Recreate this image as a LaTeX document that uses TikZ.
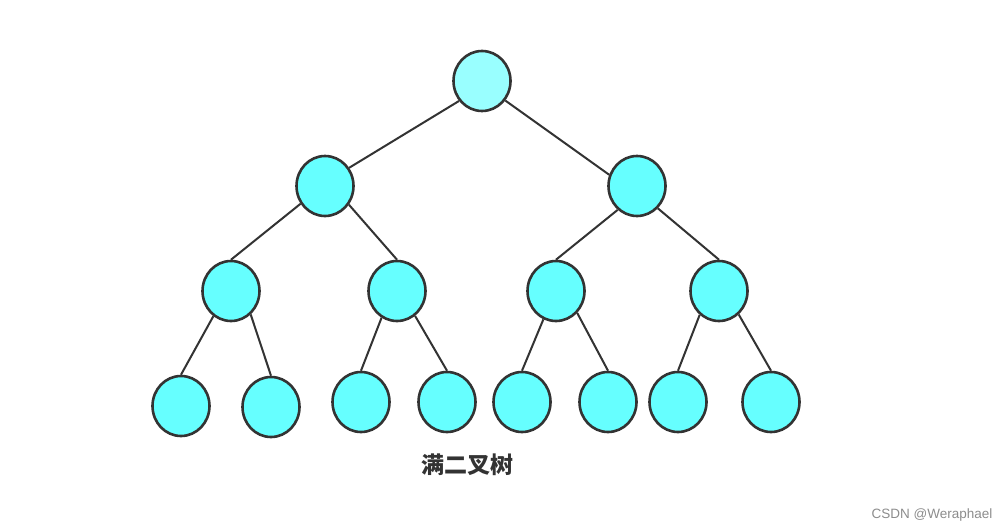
\documentclass[tikz,border=0pt]{standalone}
\usepackage{fontspec}
\setmainfont{Liberation Sans}
\newfontfamily\cjk{Noto Sans CJK SC}
\usetikzlibrary{shapes.geometric}
\definecolor{inkgrey}{HTML}{333333}
\definecolor{rootcyan}{HTML}{99FFFF}
\definecolor{knotcyan}{HTML}{66FFFF}

\begin{document}
\begin{tikzpicture}[x=1pt, y=-1pt,
	knot/.style={draw=inkgrey, fill=knotcyan, ellipse, line width=2.6pt,
		minimum width=57pt, minimum height=60pt, inner sep=0pt},
	twig/.style={draw=inkgrey, line width=2pt}]
	\useasboundingbox (0,0) rectangle (1008,532);

	\node [knot, fill=rootcyan] (root) at (482,81) {};

	\node [knot] (l) at (325,186) {};
	\node [knot] (r) at (637,186) {};

	\node [knot] (ll) at (231,291) {};
	\node [knot] (lr) at (397,291) {};
	\node [knot] (rl) at (556,291) {};
	\node [knot] (rr) at (719,291) {};

	\node [knot] (lll) at (181,406) {};
	\node [knot] (llr) at (271,407) {};
	\node [knot] (lrl) at (361,402) {};
	\node [knot] (lrr) at (447,402) {};
	\node [knot] (rll) at (522,402) {};
	\node [knot] (rlr) at (608,402) {};
	\node [knot] (rrl) at (678,402) {};
	\node [knot] (rrr) at (771,402) {};

	% level 0 to 1
	\draw[twig] (root.-139) -- (l.37);
	\draw[twig] (root.-40) -- (r.158);
	% level 1 to 2
	\draw[twig] (l.-144) -- (ll.north);
	\draw[twig] (l.-38) -- (lr.north);
	\draw[twig] (r.-129) -- (rl.north);
	\draw[twig] (r.-47) -- (rr.north);
	% level 2 to 3
	\draw[twig] (ll.-125) -- (lll.north);
	\draw[twig] (ll.-50) -- (llr.north);
	\draw[twig] (lr.-120) -- (lrl.north);
	\draw[twig] (lr.-54) -- (lrr.north);
	\draw[twig] (rl.-114) -- (rll.north);
	\draw[twig] (rl.-46) -- (rlr.north);
	\draw[twig] (rr.-129) -- (rrl.north);
	\draw[twig] (rr.-50) -- (rrr.north);

	\node [text=inkgrey, font=\cjk\bfseries\fontsize{23}{23}\selectfont]
		(caption) at (467,465) {满二叉树};

	\node [text=black!45, font=\fontsize{13.5}{13.5}\selectfont, anchor=east]
		(mark) at (996,515) {CSDN @Weraphael};
\end{tikzpicture}
\end{document}
